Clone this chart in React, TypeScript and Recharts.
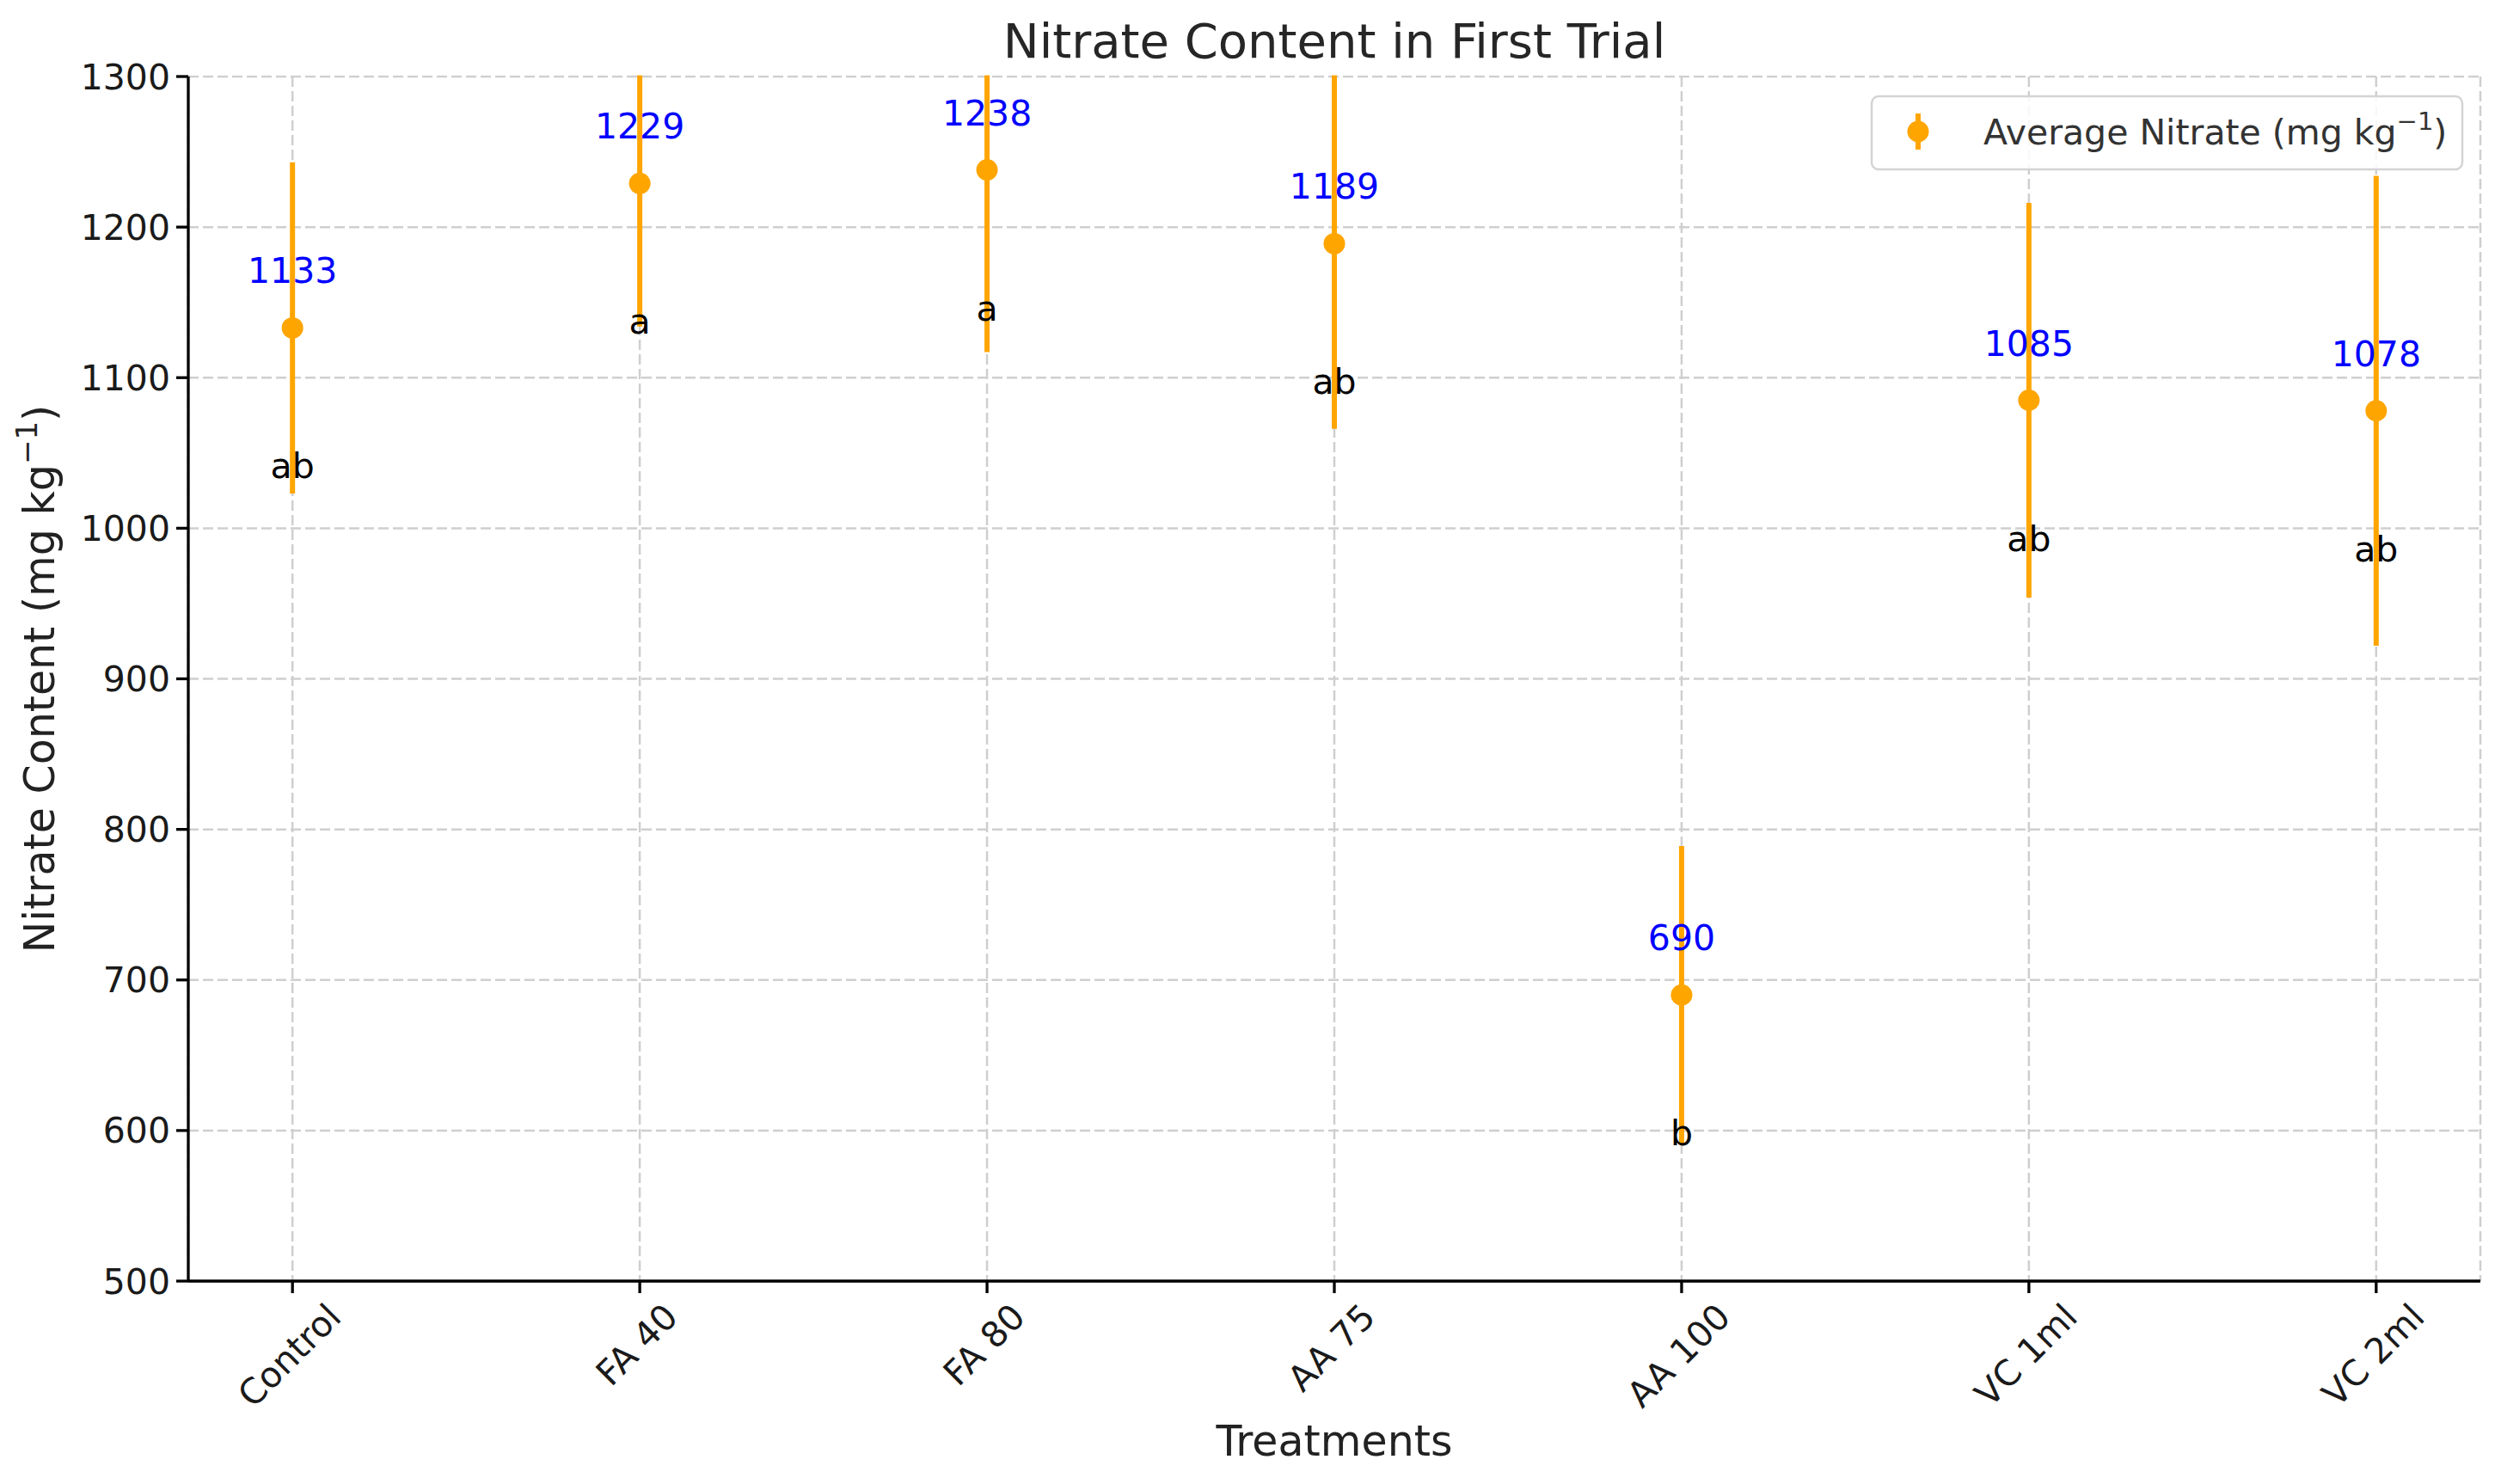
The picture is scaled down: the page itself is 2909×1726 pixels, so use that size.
import React from 'react';
import { ScatterChart, Scatter, XAxis, YAxis, CartesianGrid, ErrorBar, LabelList } from 'recharts';

const categories = ['Control', 'FA 40', 'FA 80', 'AA 75', 'AA 100', 'VC 1ml', 'VC 2ml'];
const means = [1133, 1229, 1238, 1189, 690, 1085, 1078];
const errors = [110, 95, 121, 123, 99, 131, 156];
const letters = ['ab', 'a', 'a', 'ab', 'b', 'ab', 'ab'];
const yTicks = [500, 600, 700, 800, 900, 1000, 1100, 1200, 1300];
const xTicks = [0, 1, 2, 3, 4, 5, 6];

const W = 2909;
const H = 1726;
const FONT = '"DejaVu Sans", sans-serif';
const ORANGE = '#FFA500';
const TICK_FS = 41;

const data = categories.map((name, i) => ({
  x: i,
  name,
  mean: means[i],
  err: errors[i],
  letter: letters[i],
}));

let measureCtx: CanvasRenderingContext2D | null = null;
function textWidth(s: string) {
  if (!measureCtx) measureCtx = document.createElement('canvas').getContext('2d');
  if (!measureCtx) return s.length * TICK_FS * 0.6;
  measureCtx.font = `${TICK_FS}px "DejaVu Sans"`;
  return measureCtx.measureText(s).width;
}

// rotated 45deg tick, bbox centred on the tick like matplotlib
function XTick(props: any) {
  const { x, y, payload } = props;
  const label = categories[payload.value] ?? '';
  const capH = TICK_FS * 0.73;
  const h = (textWidth(label) + capH) * 0.7071;
  const cy = y + h / 2;
  return (
    <g transform={`translate(${x - 4},${cy}) rotate(-45)`}>
      <text x={0} y={capH / 2} textAnchor="middle" fontSize={TICK_FS} fontFamily={FONT} fill="#1a1a1a">
        {label}
      </text>
    </g>
  );
}

function center(props: any) {
  const cx = (props.x ?? 0) + (props.width ?? 0) / 2;
  const cy = (props.y ?? 0) + (props.height ?? 0) / 2;
  return { cx, cy };
}

function ValueLabel(props: any) {
  const { cx, cy } = center(props);
  return (
    <text x={cx} y={cy - 52} textAnchor="middle" fontSize={TICK_FS} fontFamily={FONT} fill="#0000ff">
      {props.value}
    </text>
  );
}

function LetterLabel(props: any) {
  const { cx, cy } = center(props);
  return (
    <text x={cx} y={cy + 175} textAnchor="middle" fontSize={TICK_FS} fontFamily={FONT} fill="#000">
      {props.value}
    </text>
  );
}

function YLabel(props: any) {
  const vb = props.viewBox;
  return (
    <text
      transform={`translate(${vb.x + 63},${vb.y + vb.height / 2}) rotate(-90)`}
      textAnchor="middle"
      fontSize={49}
      fontFamily={FONT}
      fill="#222"
    >
      Nitrate Content (mg kg
      <tspan dy={-20} fontSize={34}>−1</tspan>
      <tspan dy={20}>)</tspan>
    </text>
  );
}

function XLabel(props: any) {
  const vb = props.viewBox;
  return (
    <text x={vb.x + vb.width / 2} y={vb.y + 203} textAnchor="middle" fontSize={49} fontFamily={FONT} fill="#222">
      Treatments
    </text>
  );
}

export default function App() {
  return (
    <div style={{ position: 'absolute', left: 0, top: 0, width: W, height: H, background: '#fff' }}>
      <ScatterChart width={W} height={H} margin={{ top: 89, right: 24, bottom: 0, left: 0 }}>
        <CartesianGrid stroke="#cfcfcf" strokeWidth={2.5} strokeDasharray="12 5" />
        <XAxis
          type="number"
          dataKey="x"
          domain={[-0.3, 6.3]}
          ticks={xTicks}
          allowDataOverflow
          interval={0}
          height={236}
          axisLine={{ stroke: '#000', strokeWidth: 3.3 }}
          tickLine={{ stroke: '#000', strokeWidth: 3.3 }}
          tickSize={14}
          tickMargin={9}
          tick={<XTick />}
          label={<XLabel />}
        />
        <YAxis
          type="number"
          dataKey="mean"
          domain={[500, 1300]}
          ticks={yTicks}
          allowDataOverflow
          width={219}
          axisLine={{ stroke: '#000', strokeWidth: 3.3 }}
          tickLine={{ stroke: '#000', strokeWidth: 3.3 }}
          tickSize={14}
          tickMargin={7}
          tick={{ fill: '#1a1a1a', fontSize: TICK_FS, fontFamily: FONT }}
          label={<YLabel />}
        />
        <Scatter
          data={data}
          isAnimationActive={false}
          fill={ORANGE}
          shape={(p: any) => <circle cx={p.cx} cy={p.cy} r={12.5} fill={ORANGE} />}
        >
          <ErrorBar dataKey="err" direction="y" width={0} stroke={ORANGE} strokeWidth={6} isAnimationActive={false} />
          <LabelList dataKey="mean" content={<ValueLabel />} />
          <LabelList dataKey="letter" content={<LetterLabel />} />
        </Scatter>
      </ScatterChart>
      <svg
        width={W}
        height={H}
        style={{ position: 'absolute', left: 0, top: 0, pointerEvents: 'none' }}
      >
        {/* error bars overflowing the top of the axes are hidden, as matplotlib clips them */}
        <rect x={222} y={0} width={W - 222} height={87.6} fill="#fff" />
        <text x={1552} y={67} textAnchor="middle" fontSize={56} fontFamily={FONT} fill="#262626">
          Nitrate Content in First Trial
        </text>
        <rect x={2177} y={112} width={687} height={85} rx={8} fill="#fff" fillOpacity={0.85} stroke="#d4d4d4" strokeWidth={2.5} />
        <line x1={2231} x2={2231} y1={132} y2={174} stroke={ORANGE} strokeWidth={6} />
        <circle cx={2231} cy={153} r={12.5} fill={ORANGE} />
        <text x={2307} y={168} fontSize={TICK_FS} fontFamily={FONT} fill="#333">
          Average Nitrate (mg kg
          <tspan dy={-17} fontSize={29}>−1</tspan>
          <tspan dy={17}>)</tspan>
        </text>
      </svg>
    </div>
  );
}
